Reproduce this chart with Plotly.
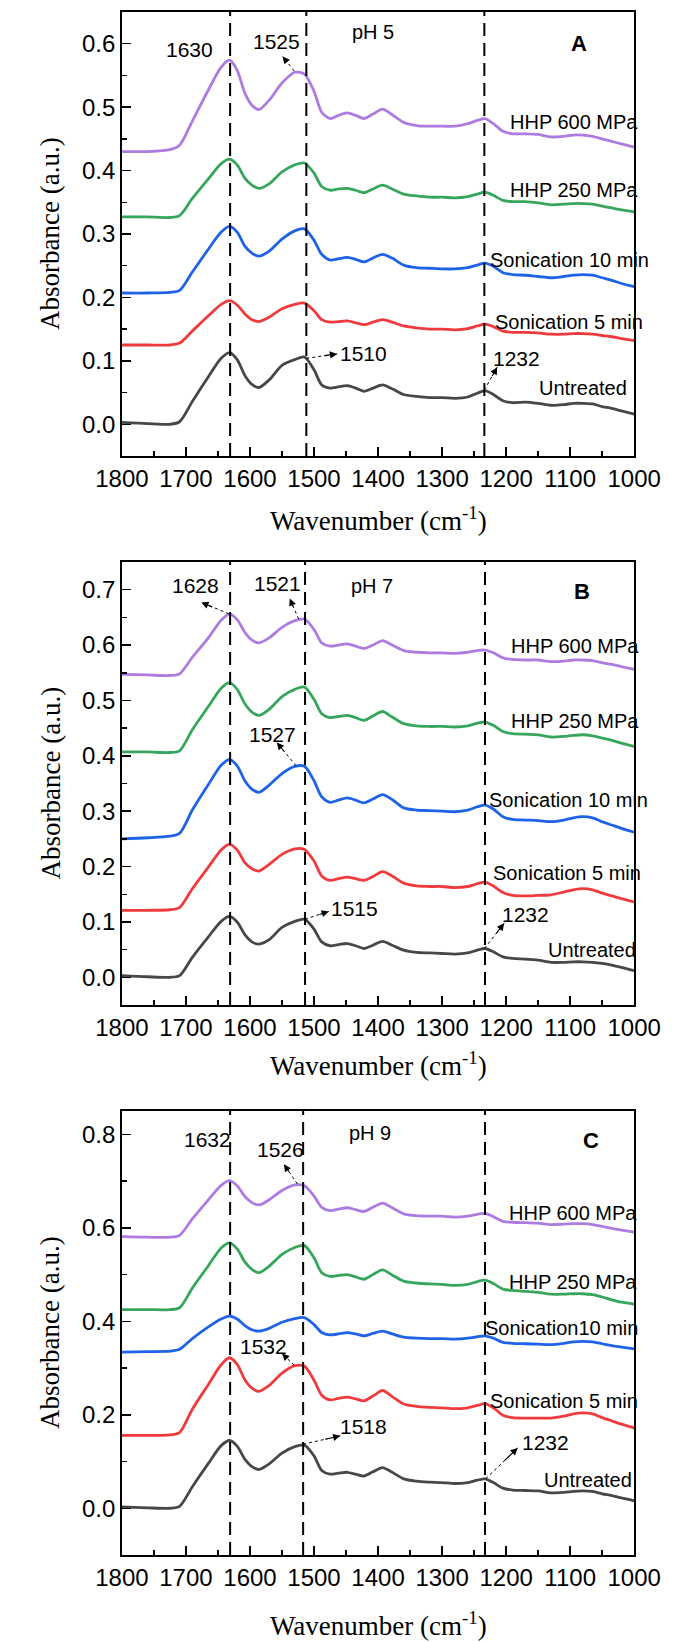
import plotly.graph_objects as go

W, H = 687, 1642

# ---------------- data ----------------
wavenumber = [1800, 1760, 1725, 1710, 1690, 1665, 1645, 1632, 1620, 1608, 1597, 1586, 1570, 1550,
              1530, 1515, 1500, 1488, 1475, 1462, 1448, 1435, 1422, 1408, 1393, 1378, 1360, 1340,
              1320, 1300, 1280, 1260, 1245, 1233, 1220, 1205, 1190, 1170, 1150, 1130, 1110, 1095,
              1080, 1065, 1050, 1035, 1020, 1000]

series_names = ["Untreated", "Sonication 5 min", "Sonication 10 min", "HHP 250 MPa", "HHP 600 MPa"]

# pH 5
ph5_untreated = [0.003, 0.001, 0.000, 0.004, 0.036, 0.075, 0.104, 0.113, 0.102, 0.077, 0.063, 0.058, 0.070, 0.093,
                 0.102, 0.106, 0.086, 0.062, 0.057, 0.059, 0.061, 0.057, 0.052, 0.057, 0.062, 0.056, 0.047, 0.044,
                 0.042, 0.042, 0.041, 0.043, 0.049, 0.053, 0.047, 0.037, 0.034, 0.035, 0.033, 0.030, 0.031, 0.033,
                 0.033, 0.032, 0.028, 0.025, 0.021, 0.016]
ph5_son5 = [0.125, 0.125, 0.125, 0.128, 0.147, 0.171, 0.189, 0.195, 0.188, 0.174, 0.165, 0.162, 0.169, 0.182,
            0.189, 0.191, 0.179, 0.165, 0.161, 0.162, 0.163, 0.160, 0.157, 0.161, 0.165, 0.161, 0.155, 0.152,
            0.150, 0.150, 0.149, 0.151, 0.155, 0.158, 0.154, 0.147, 0.145, 0.145, 0.144, 0.142, 0.142, 0.143,
            0.143, 0.142, 0.140, 0.138, 0.135, 0.132]
ph5_son10 = [0.207, 0.207, 0.208, 0.211, 0.240, 0.276, 0.303, 0.312, 0.303, 0.281, 0.270, 0.265, 0.273, 0.292,
             0.305, 0.308, 0.290, 0.268, 0.259, 0.261, 0.263, 0.260, 0.256, 0.262, 0.268, 0.262, 0.251, 0.247,
             0.246, 0.245, 0.245, 0.247, 0.251, 0.254, 0.249, 0.239, 0.236, 0.235, 0.233, 0.231, 0.233, 0.235,
             0.236, 0.235, 0.231, 0.227, 0.222, 0.217]
ph5_hhp250 = [0.327, 0.327, 0.326, 0.329, 0.356, 0.387, 0.411, 0.418, 0.409, 0.388, 0.377, 0.372, 0.379, 0.398,
              0.409, 0.412, 0.396, 0.375, 0.369, 0.371, 0.372, 0.369, 0.365, 0.371, 0.377, 0.371, 0.363, 0.360,
              0.358, 0.358, 0.357, 0.359, 0.363, 0.366, 0.361, 0.353, 0.351, 0.351, 0.349, 0.346, 0.347, 0.348,
              0.348, 0.347, 0.344, 0.341, 0.338, 0.335]
ph5_hhp600 = [0.430, 0.430, 0.433, 0.440, 0.478, 0.527, 0.563, 0.574, 0.558, 0.522, 0.503, 0.496, 0.511, 0.538,
              0.555, 0.552, 0.525, 0.492, 0.482, 0.487, 0.491, 0.487, 0.482, 0.489, 0.497, 0.488, 0.476, 0.471,
              0.470, 0.470, 0.470, 0.474, 0.479, 0.482, 0.474, 0.462, 0.458, 0.458, 0.457, 0.453, 0.454, 0.456,
              0.456, 0.454, 0.450, 0.446, 0.442, 0.437]

# pH 7
ph7_untreated = [0.003, 0.001, 0.000, 0.003, 0.036, 0.073, 0.101, 0.110, 0.100, 0.077, 0.064, 0.060, 0.068, 0.090,
                 0.101, 0.105, 0.087, 0.064, 0.057, 0.059, 0.061, 0.057, 0.052, 0.058, 0.065, 0.058, 0.049, 0.045,
                 0.044, 0.043, 0.042, 0.044, 0.049, 0.052, 0.046, 0.037, 0.034, 0.033, 0.031, 0.027, 0.027, 0.028,
                 0.028, 0.027, 0.025, 0.022, 0.018, 0.012]
ph7_son5 = [0.121, 0.121, 0.122, 0.126, 0.160, 0.199, 0.230, 0.240, 0.230, 0.207, 0.196, 0.192, 0.204, 0.222,
            0.232, 0.231, 0.210, 0.183, 0.175, 0.178, 0.181, 0.178, 0.175, 0.182, 0.191, 0.183, 0.170, 0.165,
            0.164, 0.164, 0.162, 0.164, 0.169, 0.172, 0.165, 0.153, 0.148, 0.147, 0.148, 0.149, 0.154, 0.158,
            0.160, 0.158, 0.152, 0.147, 0.142, 0.136]
ph7_son10 = [0.250, 0.252, 0.255, 0.260, 0.302, 0.348, 0.383, 0.393, 0.382, 0.355, 0.340, 0.334, 0.347, 0.368,
             0.381, 0.381, 0.355, 0.326, 0.316, 0.320, 0.324, 0.320, 0.315, 0.322, 0.330, 0.321, 0.306, 0.302,
             0.301, 0.300, 0.299, 0.302, 0.308, 0.311, 0.304, 0.290, 0.285, 0.284, 0.283, 0.281, 0.284, 0.288,
             0.290, 0.288, 0.281, 0.275, 0.269, 0.262]
ph7_hhp250 = [0.407, 0.407, 0.406, 0.409, 0.447, 0.489, 0.522, 0.532, 0.520, 0.494, 0.479, 0.473, 0.484, 0.507,
              0.520, 0.524, 0.502, 0.476, 0.469, 0.471, 0.473, 0.469, 0.464, 0.472, 0.480, 0.470, 0.458, 0.454,
              0.453, 0.453, 0.452, 0.454, 0.459, 0.461, 0.455, 0.444, 0.440, 0.439, 0.438, 0.434, 0.435, 0.437,
              0.438, 0.436, 0.432, 0.428, 0.423, 0.417]
ph7_hhp600 = [0.547, 0.546, 0.545, 0.548, 0.578, 0.613, 0.645, 0.656, 0.646, 0.623, 0.609, 0.604, 0.613, 0.632,
              0.644, 0.647, 0.628, 0.604, 0.598, 0.600, 0.602, 0.598, 0.594, 0.600, 0.608, 0.600, 0.590, 0.587,
              0.586, 0.586, 0.585, 0.587, 0.590, 0.591, 0.586, 0.577, 0.574, 0.573, 0.573, 0.570, 0.571, 0.573,
              0.573, 0.572, 0.568, 0.565, 0.561, 0.556]

# pH 9
ph9_untreated = [0.003, 0.001, 0.000, 0.004, 0.046, 0.096, 0.134, 0.145, 0.133, 0.105, 0.089, 0.083, 0.095, 0.118,
                 0.132, 0.135, 0.112, 0.081, 0.073, 0.075, 0.077, 0.073, 0.069, 0.078, 0.087, 0.077, 0.063, 0.058,
                 0.056, 0.055, 0.053, 0.055, 0.060, 0.063, 0.055, 0.043, 0.039, 0.038, 0.037, 0.033, 0.034, 0.036,
                 0.037, 0.036, 0.031, 0.027, 0.022, 0.016]
ph9_son5 = [0.156, 0.156, 0.157, 0.162, 0.212, 0.265, 0.307, 0.322, 0.308, 0.275, 0.257, 0.250, 0.263, 0.289,
            0.305, 0.304, 0.274, 0.242, 0.232, 0.235, 0.238, 0.234, 0.230, 0.240, 0.252, 0.239, 0.223, 0.218,
            0.216, 0.215, 0.213, 0.215, 0.220, 0.224, 0.215, 0.199, 0.194, 0.193, 0.193, 0.193, 0.197, 0.202,
            0.204, 0.202, 0.194, 0.187, 0.180, 0.172]
ph9_son10 = [0.334, 0.335, 0.336, 0.340, 0.363, 0.388, 0.405, 0.411, 0.405, 0.391, 0.382, 0.379, 0.385, 0.398,
             0.406, 0.408, 0.393, 0.376, 0.371, 0.373, 0.376, 0.373, 0.369, 0.374, 0.379, 0.373, 0.366, 0.364,
             0.363, 0.363, 0.362, 0.364, 0.367, 0.369, 0.364, 0.355, 0.353, 0.352, 0.351, 0.350, 0.353, 0.356,
             0.357, 0.356, 0.352, 0.348, 0.345, 0.341]
ph9_hhp250 = [0.425, 0.425, 0.425, 0.429, 0.471, 0.519, 0.557, 0.568, 0.555, 0.527, 0.511, 0.504, 0.518, 0.543,
              0.558, 0.562, 0.536, 0.504, 0.496, 0.498, 0.500, 0.495, 0.490, 0.500, 0.510, 0.499, 0.486, 0.482,
              0.480, 0.479, 0.477, 0.479, 0.485, 0.488, 0.481, 0.469, 0.466, 0.464, 0.462, 0.458, 0.458, 0.459,
              0.459, 0.457, 0.452, 0.446, 0.441, 0.437]
ph9_hhp600 = [0.581, 0.580, 0.580, 0.584, 0.619, 0.660, 0.691, 0.701, 0.690, 0.667, 0.654, 0.649, 0.660, 0.680,
              0.692, 0.690, 0.668, 0.644, 0.637, 0.640, 0.643, 0.639, 0.635, 0.644, 0.653, 0.643, 0.630, 0.626,
              0.625, 0.625, 0.623, 0.625, 0.629, 0.631, 0.624, 0.614, 0.612, 0.611, 0.610, 0.607, 0.608, 0.609,
              0.609, 0.607, 0.603, 0.599, 0.595, 0.591]

x_ticks = [1800, 1700, 1600, 1500, 1400, 1300, 1200, 1100, 1000]

# ---------------- styling ----------------
colors = ["#474747", "#EF3B3E", "#1E63E6", "#36A65C", "#AE7CE0"]
SANS = "Liberation Sans, Arial, sans-serif"
SERIF = "Liberation Serif, Times New Roman, serif"

panels = [
    dict(suffix="", top=12, bottom=456, yrange=[-0.05, 0.65], dtick=0.1, minor=0.05, title_y=519,
         data=[ph5_untreated, ph5_son5, ph5_son10, ph5_hhp250, ph5_hhp600],
         labels=[("HHP 600 MPa", 1197, 0.477), ("HHP 250 MPa", 1197, 0.370), ("Sonication 10 min", 1229, 0.259),
                 ("Sonication 5 min", 1220, 0.162), ("Untreated", 1152, 0.057)],
         peaks=[("1630", 1735, 0.591), ("1525", 1599, 0.603), ("1510", 1462, 0.111), ("1232", 1223, 0.103)],
         ph=("pH 5", 1444, 0.618), letter=("A", 1086, 0.600),
         arrows=[(1531, 0.557, 1549, 0.580), (1512, 0.104, 1464, 0.111), (1234, 0.054, 1214, 0.090)],
         vlines=[1631, 1512, 1234]),
    dict(suffix="2", top=562, bottom=1005, yrange=[-0.05, 0.75], dtick=0.1, minor=0.05, title_y=1064,
         data=[ph7_untreated, ph7_son5, ph7_son10, ph7_hhp250, ph7_hhp600],
         labels=[("HHP 600 MPa", 1195, 0.598), ("HHP 250 MPa", 1195, 0.463), ("Sonication 10 min", 1230, 0.320),
                 ("Sonication 5 min", 1223, 0.189), ("Untreated", 1138, 0.049)],
         peaks=[("1628", 1725, 0.708), ("1521", 1597, 0.711), ("1527", 1604, 0.438), ("1515", 1476, 0.124),
                ("1232", 1209, 0.113)],
         ph=("pH 7", 1446, 0.707), letter=("B", 1082, 0.697),
         arrows=[(1633, 0.6565, 1676, 0.677), (1524, 0.647, 1538, 0.684), (1528, 0.382, 1558, 0.424),
                 (1514, 0.105, 1477, 0.119), (1234, 0.052, 1203, 0.0975)],
         vlines=[1631, 1514, 1233]),
    dict(suffix="3", top=1111, bottom=1555, yrange=[-0.1, 0.85], dtick=0.2, minor=0.1, title_y=1624,
         data=[ph9_untreated, ph9_son5, ph9_son10, ph9_hhp250, ph9_hhp600],
         labels=[("HHP 600 MPa", 1199, 0.631), ("HHP 250 MPa", 1199, 0.484), ("Sonication10 min", 1236, 0.385),
                 ("Sonication 5 min", 1229, 0.230), ("Untreated", 1144, 0.061)],
         peaks=[("1632", 1706, 0.790), ("1526", 1592, 0.768), ("1532", 1619, 0.347), ("1518", 1462, 0.176),
                ("1232", 1179, 0.141)],
         ph=("pH 9", 1449, 0.804), letter=("C", 1068, 0.786),
         arrows=[(1526, 0.694, 1547, 0.736), (1531, 0.306, 1550, 0.331), (1517, 0.137, 1459, 0.155),
                 (1232, 0.063, 1182, 0.129)],
         vlines=[1631, 1517, 1233]),
]

X0, X1 = 103, 659

fig = go.Figure()
annotations = []
shapes = []
layout_axes = {}

for p in panels:
    s = p["suffix"]
    xa, ya = "x" + s, "y" + s
    for name, vals, col in zip(series_names, p["data"], colors):
        fig.add_trace(go.Scatter(x=wavenumber, y=vals, mode="lines", name=name,
                                 line=dict(color=col, width=2.8, shape="spline", smoothing=0.8),
                                 xaxis=xa, yaxis=ya, showlegend=False, hoverinfo="skip"))
    dom_y = [1 - p["bottom"] / H, 1 - p["top"] / H]
    layout_axes["xaxis" + s] = dict(
        domain=[X0 / W, X1 / W], anchor=ya, range=[1800, 1000], autorange=False,
        tickmode="array", tickvals=x_ticks, ticks="inside", ticklen=9, tickwidth=1.5, tickcolor="black",
        minor=dict(dtick=50, tick0=1000, ticks="inside", ticklen=5, tickwidth=1.5, tickcolor="black"),
        showline=True, linecolor="black", linewidth=1.8, mirror=True, showgrid=False, zeroline=False,
        tickfont=dict(family=SANS, size=24, color="black"))
    layout_axes["yaxis" + s] = dict(
        domain=dom_y, anchor=xa, range=p["yrange"], autorange=False,
        dtick=p["dtick"], tick0=0, tickformat=".1f", ticks="inside", ticklen=9, tickwidth=1.5, tickcolor="black",
        minor=dict(dtick=p["minor"], tick0=0, ticks="inside", ticklen=5, tickwidth=1.5, tickcolor="black"),
        showline=True, linecolor="black", linewidth=1.8, mirror=True, showgrid=False, zeroline=False,
        tickfont=dict(family=SANS, size=24, color="black"))

    for v in p["vlines"]:
        shapes.append(dict(type="line", xref=xa, yref=ya + " domain", x0=v, x1=v, y0=0, y1=1,
                           line=dict(color="black", width=2, dash="13px,7px")))

    for t, x, y in p["labels"]:
        annotations.append(dict(text=t, x=x, y=y, xref=xa, yref=ya, xanchor="left", yanchor="middle",
                                showarrow=False, font=dict(family=SANS, size=20, color="black")))
    for t, x, y in p["peaks"]:
        annotations.append(dict(text=t, x=x, y=y, xref=xa, yref=ya, xanchor="left", yanchor="middle",
                                showarrow=False, font=dict(family=SANS, size=21, color="black")))
    t, x, y = p["ph"]
    annotations.append(dict(text=t, x=x, y=y, xref=xa, yref=ya, xanchor="left", yanchor="middle",
                            showarrow=False, font=dict(family=SANS, size=20, color="black")))
    t, x, y = p["letter"]
    annotations.append(dict(text="<b>" + t + "</b>", x=x, y=y, xref=xa, yref=ya, xanchor="center",
                            yanchor="middle", showarrow=False, font=dict(family=SANS, size=22, color="black")))
    for (tx, ty, hx, hy) in p["arrows"]:
        shapes.append(dict(type="line", xref=xa, yref=ya, x0=tx, y0=ty, x1=hx, y1=hy,
                           line=dict(color="black", width=1, dash="dot")))
        mx = tx + 0.55 * (hx - tx)
        my = ty + 0.55 * (hy - ty)
        annotations.append(dict(text="", x=hx, y=hy, ax=mx, ay=my, xref=xa, yref=ya, axref=xa, ayref=ya,
                                showarrow=True, arrowhead=2, arrowsize=1.3, arrowwidth=1.1, arrowcolor="black"))

    # axis titles
    annotations.append(dict(text="Wavenumber (cm<sup>-1</sup>)", x=(X0 + X1) / 2 / W, y=1 - p["title_y"] / H,
                            xref="paper", yref="paper", xanchor="center", yanchor="middle", showarrow=False,
                            font=dict(family=SERIF, size=27, color="black")))
    annotations.append(dict(text="Absorbance (a.u.)", x=25 / W, y=1 - (p["top"] + p["bottom"]) / 2 / H,
                            xref="paper", yref="paper", xanchor="center", yanchor="middle", textangle=-90,
                            showarrow=False, font=dict(family=SERIF, size=27, color="black")))

fig.update_layout(width=W, height=H, margin=dict(l=0, r=0, t=0, b=0),
                  paper_bgcolor="white", plot_bgcolor="white",
                  annotations=annotations, shapes=shapes, **layout_axes)

fig.write_html("out.html", config={"displayModeBar": False, "staticPlot": True},
               post_script="document.body.style.margin='0';document.body.style.overflow='hidden';")
